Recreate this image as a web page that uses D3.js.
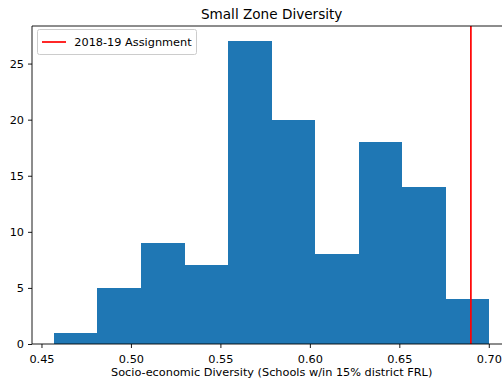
<!DOCTYPE html>
<html>
<head>
<meta charset="utf-8">
<script src="https://cdn.jsdelivr.net/npm/d3@7"></script>
<style>
  html, body { margin: 0; padding: 0; background: #fff; }
  svg { display: block; font-family: "DejaVu Sans", sans-serif; }
</style>
</head>
<body>
<svg id="chart" width="502" height="382"></svg>
<script>
// Histogram bins (10 equal-width bins) and counts
const binStart = 0.4569;
const binWidth = 0.02435;
const counts = [1, 5, 9, 7, 27, 20, 8, 18, 14, 4];
const assignmentValue = 0.690;
const xTicks = [0.45, 0.50, 0.55, 0.60, 0.65, 0.70];
const yTicks = [0, 5, 10, 15, 20, 25];
const titleText = "Small Zone Diversity";
const xLabel = "Socio-economic Diversity (Schools w/in 15% district FRL)";
const legendLabel = "2018-19 Assignment";

const svg = d3.select("#chart");
const plotLeft = 32, plotTop = 26, plotBottom = 344;
const xMin = 0.4447, xMax = 0.7126;
const pxPerUnit = 1789.2;
const plotRight = plotLeft + (xMax - xMin) * pxPerUnit;
const fontSize = 11.3;

const x = d3.scaleLinear().domain([xMin, xMax]).range([plotLeft, plotRight]);
const y = d3.scaleLinear().domain([0, 28.35]).range([plotBottom, plotTop]);

const bins = counts.map((c, i) => ({
  x0: binStart + i * binWidth,
  x1: binStart + (i + 1) * binWidth,
  count: c
}));

// bars
svg.append("g").selectAll("rect").data(bins).join("rect")
  .attr("x", d => x(d.x0))
  .attr("width", d => x(d.x1) - x(d.x0))
  .attr("y", d => y(d.count))
  .attr("height", d => y(0) - y(d.count))
  .attr("fill", "#1f77b4")
  .attr("shape-rendering", "crispEdges");

// assignment line
svg.append("line")
  .attr("x1", x(assignmentValue)).attr("x2", x(assignmentValue))
  .attr("y1", plotTop).attr("y2", plotBottom)
  .attr("stroke", "#ff0000").attr("stroke-width", 1.7);

// axes
const xAxis = d3.axisBottom(x).tickValues(xTicks).tickFormat(d3.format(".2f"))
  .tickSize(4).tickPadding(4).tickSizeOuter(0);
const yAxis = d3.axisLeft(y).tickValues(yTicks).tickFormat(d3.format("d"))
  .tickSize(4).tickPadding(4).tickSizeOuter(0);

const gx = svg.append("g").attr("transform", `translate(0,${plotBottom})`).call(xAxis);
const gy = svg.append("g").attr("transform", `translate(${plotLeft},0)`).call(yAxis);
[gx, gy].forEach(g => {
  g.selectAll("text").attr("font-size", fontSize).attr("fill", "#000")
    .attr("font-family", "DejaVu Sans, sans-serif");
  g.selectAll("line").attr("stroke", "#000").attr("stroke-width", 0.9);
  g.select(".domain").remove();
});
gx.selectAll("text").attr("y", 18.5).attr("dy", null);

// spines
const spine = (x1, y1, x2, y2) => svg.append("line")
  .attr("x1", x1).attr("y1", y1).attr("x2", x2).attr("y2", y2)
  .attr("stroke", "#000").attr("stroke-width", 0.9);
spine(plotLeft, plotBottom, plotRight, plotBottom);
spine(plotLeft, plotTop, plotRight, plotTop);
spine(plotLeft, plotTop, plotLeft, plotBottom);

// title and axis label
svg.append("text").attr("x", (plotLeft + plotRight) / 2).attr("y", 19)
  .attr("text-anchor", "middle").attr("font-size", 13.6).text(titleText);
svg.append("text").attr("x", (plotLeft + plotRight) / 2).attr("y", 376)
  .attr("text-anchor", "middle").attr("font-size", fontSize).text(xLabel);

// legend
const lg = svg.append("g");
lg.append("rect").attr("x", 37.5).attr("y", 29.5).attr("width", 159).attr("height", 25)
  .attr("rx", 2).attr("fill", "#fff").attr("fill-opacity", 0.8)
  .attr("stroke", "#cccccc").attr("stroke-width", 1);
lg.append("line").attr("x1", 42).attr("x2", 66).attr("y1", 42).attr("y2", 42)
  .attr("stroke", "#ff0000").attr("stroke-width", 1.7);
lg.append("text").attr("x", 74.3).attr("y", 45.7).attr("font-size", fontSize).text(legendLabel);
</script>
</body>
</html>
